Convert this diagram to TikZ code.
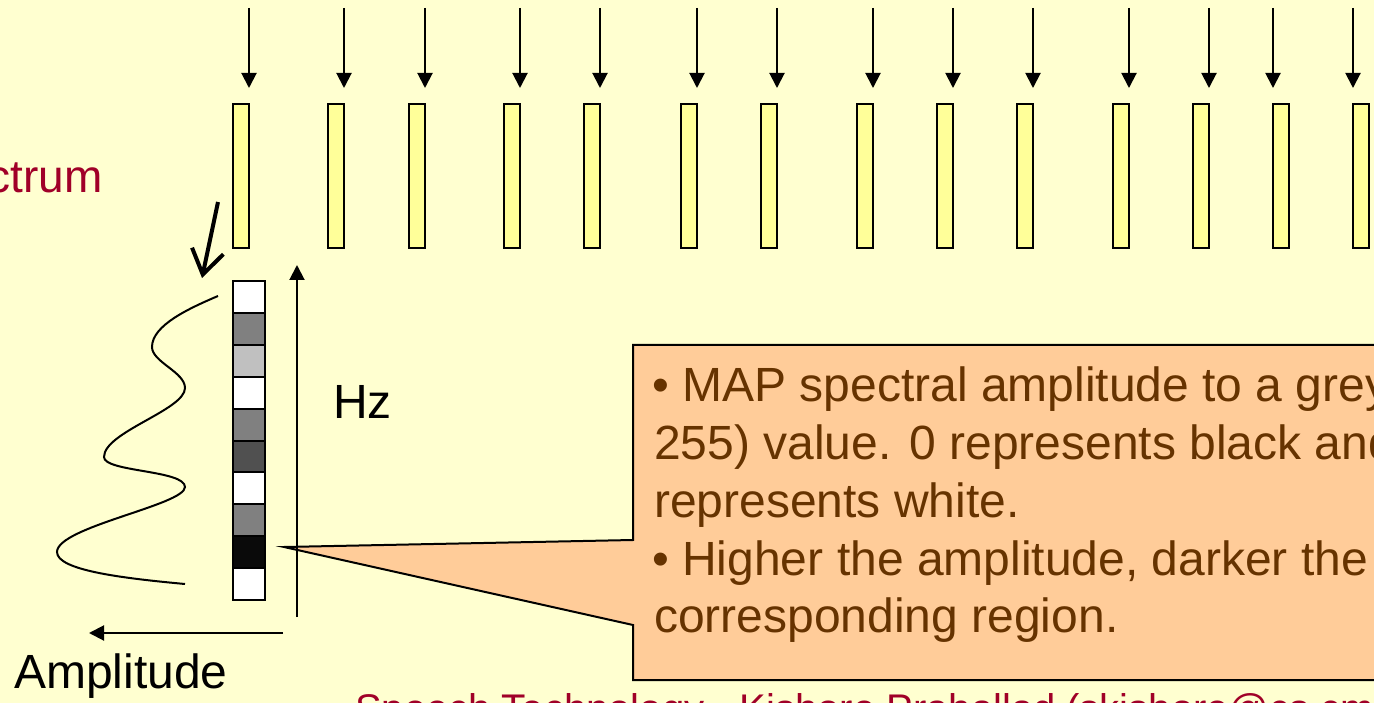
\documentclass[tikz,border=0pt]{standalone}
\usepackage{fontspec}
\setmainfont{Liberation Sans}
\usetikzlibrary{arrows.meta}

\definecolor{paper}{RGB}{255,255,208}
\definecolor{barfill}{RGB}{255,255,153}
\definecolor{notefill}{RGB}{255,204,153}
\definecolor{notetext}{RGB}{102,51,0}
\definecolor{titlered}{RGB}{160,0,40}

\begin{document}
\begin{tikzpicture}[x=1pt,y=-1pt,
  bar/.style={draw, line width=2pt, fill=barfill, minimum width=16pt,
    minimum height=144pt, inner sep=0pt, outer sep=0pt},
  cell/.style={draw, line width=2pt, minimum width=32pt,
    minimum height=31.9pt, inner sep=0pt, outer sep=0pt},
  feed/.style={line width=2pt, -{Triangle[length=15pt,width=15pt]}},
  axisline/.style={line width=2pt, -{Triangle[length=15pt,width=15pt]}},
  txt/.style={inner sep=0pt, anchor=base west,
    font=\fontsize{48}{57.5}\selectfont},
  note/.style={txt, text=notetext},
]
\useasboundingbox (0,0) rectangle (1374,703);
\clip (0,0) rectangle (1374,703);
\fill[paper] (0,0) rectangle (1374,703);

% spectral frames along the time axis, each fed by an arrow
\foreach \x/\s [count=\i] in {241/east,336/east,417/east,512/east,592/east,
    689/east,769/east,865/east,945/east,1025/east,1121/east,1201/east,
    1281/west,1361/west}{
  \node[bar] (b\i) at (\x,176) {};
  \coordinate (t\i) at ([yshift=96pt]b\i.north \s);
  \draw[feed, shorten >=16pt] (t\i) -- (b\i.north \s);
}

% grey-level column of one frame
\foreach \g [count=\i] in {255,128,192,255,128,80,255,128,10,255}{
  \node[cell, fill={rgb,255:red,\g;green,\g;blue,\g}] (c\i)
    at (249,{281+31.9*(\i-0.5)}) {};
}

% arrow pointing from the frame to its grey column
\coordinate (pin) at (218,202);
\coordinate (pout) at (202,278);
\draw[line width=4pt, -{Straight Barb[length=24pt,width=32pt]}] (pin) -- (pout);

% spectrum envelope
\draw[line width=2pt] (218,296)
  .. controls (190,308) and (152,325) .. (152,347)
  .. controls (152,362) and (185,372) .. (185,388)
  .. controls (185,410) and (104,432) .. (104,457)
  .. controls (104,472) and (185,470) .. (185,487)
  .. controls (185,505) and (57,527) .. (57,552)
  .. controls (57,570) and (120,578) .. (185,584);

% callout box with its pointer
\coordinate (tip) at (284,547);
\draw[line width=2pt, fill=notefill, line join=miter]
  (tip) -- (633,540) -- (633,345) -- (1390,345) -- (1390,680)
  -- (633,680) -- (633,625) -- cycle;

% axes
\coordinate (hzbot) at (297,617);
\coordinate (hztop) at (297,265);
\draw[axisline] (hzbot) -- (hztop);
\coordinate (ampr) at (283,633);
\coordinate (ampl) at (89,633);
\draw[axisline] (ampr) -- (ampl);

% labels
\node[txt] (hz) at (333,418) {Hz};
\node[txt] (amp) at (14,688) {Amplitude};
\node[txt, anchor=base east, text=titlered,
  font=\fontsize{46}{55}\selectfont] (spec) at (103,193) {ctrum};

% callout text
\node[note] (n1) at (652,402) {• MAP spectral amplitude to a grey};
\node[note] (n2) at (654,459) {255) value. 0 represents black and};
\node[note] (n3) at (654,517) {represents white.};
\node[note] (n4) at (652,575) {• Higher the amplitude, darker the};
\node[note] (n5) at (654,632) {corresponding region.};

% footer
\node[txt, text=titlered, font=\fontsize{40}{48}\selectfont] (foot)
  at (355,722) {Speech Technology - Kishore Prahallad (skishore@cs.cmu.edu)};
\end{tikzpicture}
\end{document}
